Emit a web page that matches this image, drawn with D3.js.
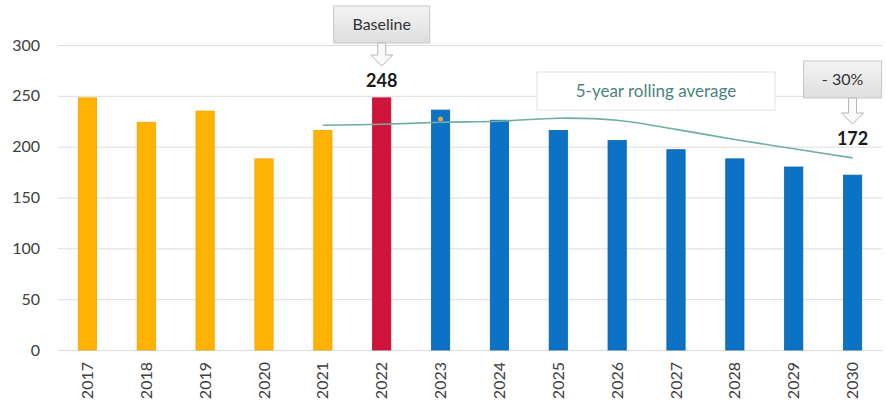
<!DOCTYPE html>
<html lang="en">
<head>
	<meta charset="utf-8">
	<title>emissions_baseline</title>
	<style>
		body { margin: 0; background: #fff; }
		svg { display: block; font-family: Lato, "Open Sans", sans-serif; }
	</style>
</head>
<body>
	<script src="https://cdn.jsdelivr.net/npm/d3@7"></script>
	<script>
		// values
		const years = ["2017", "2018", "2019", "2020", "2021", "2022", "2023", "2024", "2025", "2026", "2027", "2028", "2029", "2030"];
		const values = [248, 224, 235, 188, 216, 248, 236, 226, 216, 206, 197, 188, 180, 172];
		const kinds = ["hist", "hist", "hist", "hist", "hist", "base", "plan", "plan", "plan", "plan", "plan", "plan", "plan", "plan"];
		const rollingYears = ["2021", "2022", "2023", "2024", "2025", "2026", "2027", "2028", "2029", "2030"];
		const rollingValues = [221, 222, 224, 225, 228, 226, 217, 207, 198, 189];
		const yTicks = [0, 50, 100, 150, 200, 250, 300];

		const width = 886, height = 410;
		const margin = { top: 45, right: 4, bottom: 60, left: 58 };

		const colors = { hist: "#FFB300", base: "#D0143C", plan: "#0B72C6" };
		const strokes = { hist: "#F0A500", base: "#B8102F", plan: "#0A62AE" };

		const svg = d3.select("body")
			.append("svg")
			.attr("width", width)
			.attr("height", height);

		const x = d3.scaleBand()
			.domain(years)
			.range([margin.left, width - margin.right])
			.paddingInner(0.69)
			.paddingOuter(0.345);

		const y = d3.scaleLinear()
			.domain([0, 300])
			.range([height - margin.bottom, margin.top]);

		// grid
		svg.append("g")
			.selectAll("line")
			.data(yTicks)
			.join("line")
			.attr("x1", margin.left)
			.attr("x2", width - margin.right)
			.attr("y1", d => y(d) + 0.5)
			.attr("y2", d => y(d) + 0.5)
			.attr("stroke", "#dcdcdc")
			.attr("stroke-width", 1);

		// y labels
		const yAxis = svg.append("g")
			.attr("transform", `translate(${margin.left - 18},0)`)
			.call(d3.axisLeft(y).tickValues(yTicks).tickSize(0).tickPadding(0));
		yAxis.select(".domain").remove();
		yAxis.selectAll("text")
			.attr("font-size", 16)
			.attr("font-family", "Lato, sans-serif")
			.attr("fill", "#404040");

		// x labels
		const xAxis = svg.append("g")
			.attr("transform", `translate(0,${height - margin.bottom})`)
			.call(d3.axisBottom(x).tickSize(0));
		xAxis.select(".domain").remove();
		xAxis.selectAll("text")
			.attr("font-size", 16)
			.attr("font-family", "Lato, sans-serif")
			.attr("fill", "#404040")
			.attr("text-anchor", "end")
			.attr("transform", "rotate(-90)")
			.attr("x", -12)
			.attr("y", 0)
			.attr("dy", "0.35em");

		// bars
		svg.append("g")
			.selectAll("rect")
			.data(years)
			.join("rect")
			.attr("x", d => x(d))
			.attr("width", x.bandwidth())
			.attr("y", (d, i) => y(values[i]))
			.attr("height", (d, i) => y(0) - y(values[i]))
			.attr("fill", (d, i) => colors[kinds[i]])
			.attr("stroke", (d, i) => strokes[kinds[i]])
			.attr("stroke-width", 0.8);

		// small marker on 2023 bar
		svg.append("circle")
			.attr("cx", x("2023") + x.bandwidth() / 2)
			.attr("cy", y(values[6]) + 9)
			.attr("r", 2.5)
			.attr("fill", "#E8A33A");

		// rolling average line
		const line = d3.line()
			.x((d, i) => x(rollingYears[i]) + x.bandwidth() / 2)
			.y(d => y(d))
			.curve(d3.curveCatmullRom.alpha(0.5));

		svg.append("path")
			.datum(rollingValues)
			.attr("fill", "none")
			.attr("stroke", "#6FAEA3")
			.attr("stroke-width", 1.6)
			.attr("d", line);

		// annotation helpers
		const grad = svg.append("defs")
			.append("linearGradient")
			.attr("id", "boxGrad")
			.attr("x1", 0).attr("y1", 0).attr("x2", 0).attr("y2", 1);
		grad.append("stop").attr("offset", "0%").attr("stop-color", "#f4f4f4");
		grad.append("stop").attr("offset", "100%").attr("stop-color", "#dedede");

		function calloutBox(cx, top, w, h, label) {
			svg.append("rect")
				.attr("x", cx - w / 2)
				.attr("y", top)
				.attr("width", w)
				.attr("height", h)
				.attr("fill", "url(#boxGrad)")
				.attr("stroke", "#c8c8c8");
			svg.append("text")
				.attr("x", cx)
				.attr("y", top + h / 2)
				.attr("dy", "0.35em")
				.attr("text-anchor", "middle")
				.attr("font-size", 16)
				.attr("fill", "#333")
				.text(label);
		}

		function downArrow(cx, top, bottom) {
			const sw = 4, hw = 11, hh = 11;
			const p = d3.path();
			p.moveTo(cx - sw, top);
			p.lineTo(cx + sw, top);
			p.lineTo(cx + sw, bottom - hh);
			p.lineTo(cx + hw, bottom - hh);
			p.lineTo(cx, bottom);
			p.lineTo(cx - hw, bottom - hh);
			p.lineTo(cx - sw, bottom - hh);
			p.closePath();
			svg.append("path")
				.attr("d", p.toString())
				.attr("fill", "#fafafa")
				.attr("stroke", "#b5b5b5")
				.attr("stroke-width", 1);
		}

		function valueLabel(cx, baseY, v) {
			svg.append("text")
				.attr("x", cx)
				.attr("y", baseY)
				.attr("text-anchor", "middle")
				.attr("font-size", 18)
				.attr("font-weight", "bold")
				.attr("fill", "#1a1a1a")
				.text(v);
		}

		const c2022 = x("2022") + x.bandwidth() / 2;
		const c2030 = x("2030") + x.bandwidth() / 2;

		calloutBox(c2022, 6, 96, 37, "Baseline");
		downArrow(c2022, 43, 66);
		valueLabel(c2022, 87, values[5]);

		calloutBox(c2030 - 10, 61, 78, 37, "- 30%");
		downArrow(c2030, 98, 124);
		valueLabel(c2030, 145, values[13]);

		// rolling average label
		svg.append("rect")
			.attr("x", 537)
			.attr("y", 72)
			.attr("width", 238)
			.attr("height", 38)
			.attr("fill", "#ffffff")
			.attr("stroke", "#dfe6e4");
		svg.append("text")
			.attr("x", 656)
			.attr("y", 91)
			.attr("dy", "0.35em")
			.attr("text-anchor", "middle")
			.attr("font-size", 17)
			.attr("fill", "#4A837E")
			.text("5-year rolling average");
	</script>
</body>
</html>
